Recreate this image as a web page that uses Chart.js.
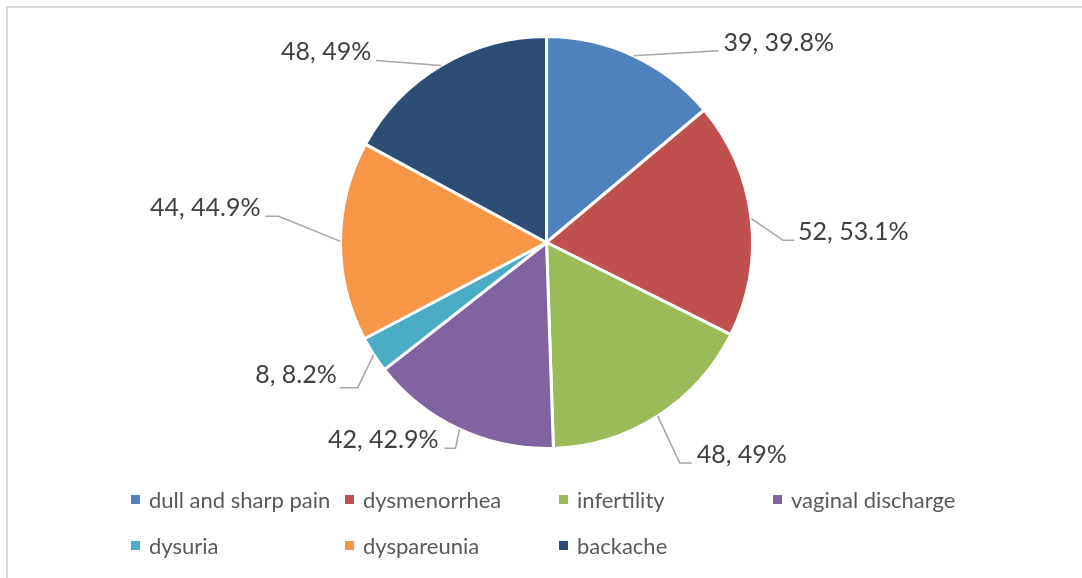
<!DOCTYPE html>
<html>
<head>
<meta charset="utf-8">
<script src="https://cdn.jsdelivr.net/npm/chart.js@4.4.0/dist/chart.umd.min.js"></script>
<style>
  html, body { margin: 0; padding: 0; background: #ffffff; }
  body { width: 1082px; height: 578px; position: relative; overflow: hidden; font-family: Lato, sans-serif; }
  #frame {
    position: absolute; left: 6px; top: 6px; width: 1100px; height: 600px;
    border-top: 2px solid #d9d9d9; border-left: 2px solid #d9d9d9;
  }
  #chart { position: absolute; left: 0; top: 0; }
  #legend {
    position: absolute; left: 131px; top: 487px;
    display: grid; grid-template-columns: repeat(4, 214px); row-gap: 22px;
  }
  .item { display: flex; align-items: center; height: 24px; font-size: 22px; color: #595959; white-space: nowrap; }
  .sw { width: 9px; height: 9px; margin-right: 9px; flex: none; }
</style>
</head>
<body>
<div id="frame"></div>
<canvas id="chart" width="1082" height="578"></canvas>
<div id="legend"></div>

<script>
// Data
const categories = ["dull and sharp pain", "dysmenorrhea", "infertility", "vaginal discharge", "dysuria", "dyspareunia", "backache"];
const counts = [39, 52, 48, 42, 8, 44, 48];
const percents = ["39.8%", "53.1%", "49%", "42.9%", "8.2%", "44.9%", "49%"];
const colors = ["#4F81BD", "#C0504D", "#9BBB59", "#8064A2", "#4BACC6", "#F79646", "#2C4D75"];

// Leader line shape for each label, relative to the slice edge at its mid angle
const leaders = [
  { dx: 85, dy: -5, tail: 0, gap: 5 },
  { dx: 32, dy: 22, tail: 11, gap: 4 },
  { dx: 22, dy: 47, tail: 12, gap: 5 },
  { dx: -4, dy: 19, tail: -11, gap: 6 },
  { dx: -16, dy: 33, tail: -18, gap: 3, ty: -5 },
  { dx: -62, dy: -25, tail: -13, gap: 5 },
  { dx: -65, dy: -5, tail: 0, gap: 5 }
];

// Draws "value, percent" labels outside the pie with grey leader lines
const leaderLabels = {
  id: "leaderLabels",
  afterDatasetsDraw(chart) {
    const ctx = chart.ctx;
    const meta = chart.getDatasetMeta(0);
    ctx.save();
    meta.data.forEach((arc, i) => {
      const p = arc.getProps(["x", "y", "startAngle", "endAngle", "outerRadius"], true);
      const mid = (p.startAngle + p.endAngle) / 2;
      const sx = p.x + Math.cos(mid) * p.outerRadius;
      const sy = p.y + Math.sin(mid) * p.outerRadius;
      const o = leaders[i];
      const ex = sx + o.dx;
      const ey = sy + o.dy;
      const tx = ex + o.tail;

      ctx.strokeStyle = "#a6a6a6";
      ctx.lineWidth = 1.5;
      ctx.beginPath();
      ctx.moveTo(sx, sy);
      ctx.lineTo(ex, ey);
      if (o.tail) ctx.lineTo(tx, ey);
      ctx.stroke();

      const right = o.dx + o.tail >= 0;
      ctx.fillStyle = "#404040";
      ctx.font = "25px Lato";
      ctx.textAlign = right ? "left" : "right";
      ctx.textBaseline = "alphabetic";
      ctx.fillText(counts[i] + ", " + percents[i], tx + (right ? o.gap : -o.gap), ey + (o.ty || 0));
    });
    ctx.restore();
  }
};

function buildLegend() {
  const box = document.getElementById("legend");
  categories.forEach((name, i) => {
    const item = document.createElement("div");
    item.className = "item";
    const sw = document.createElement("span");
    sw.className = "sw";
    sw.style.background = colors[i];
    const txt = document.createElement("span");
    txt.textContent = name;
    item.appendChild(sw);
    item.appendChild(txt);
    box.appendChild(item);
  });
}

function drawChart() {
  new Chart(document.getElementById("chart"), {
    type: "pie",
    data: {
      labels: categories,
      datasets: [{
        data: counts,
        backgroundColor: colors,
        borderColor: "#ffffff",
        borderWidth: 3
      }]
    },
    options: {
      responsive: false,
      animation: false,
      layout: { padding: { left: 339, right: 328, top: 35, bottom: 128 } },
      plugins: {
        legend: { display: false },
        tooltip: { enabled: false }
      }
    },
    plugins: [leaderLabels]
  });
}

buildLegend();
if (document.fonts && document.fonts.load) {
  document.fonts.load("25px Lato").then(drawChart, drawChart);
} else {
  drawChart();
}
</script>
</body>
</html>
